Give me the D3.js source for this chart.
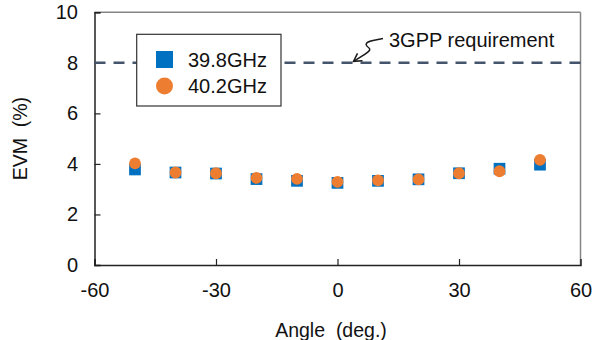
<!DOCTYPE html>
<html>
<head>
<meta charset="utf-8">
<script src="https://cdn.jsdelivr.net/npm/d3@7"></script>
<style>
  html, body { margin: 0; padding: 0; background: #fff; }
  svg { display: block; font-family: "Liberation Sans", Arial, sans-serif; }
</style>
</head>
<body>
<svg id="chart" width="597" height="340"></svg>
<script>
// Measured EVM versus steering angle at two carrier frequencies
const angles = [-50, -40, -30, -20, -10, 0, 10, 20, 30, 40, 50];
const evm398 = [3.78, 3.66, 3.62, 3.40, 3.33, 3.25, 3.33, 3.39, 3.63, 3.81, 3.97];
const evm402 = [4.02, 3.66, 3.63, 3.45, 3.41, 3.29, 3.35, 3.39, 3.63, 3.71, 4.16];
const seriesNames = ["39.8GHz", "40.2GHz"];
const xTicks = [-60, -30, 0, 30, 60];
const yTicks = [0, 2, 4, 6, 8, 10];
const requirement = 8;
const requirementLabel = "3GPP requirement";

const svg = d3.select("#chart");
const plotLeft = 94.5, plotRight = 580.5, plotTop = 12.3, plotBottom = 265;
const fontFamily = "'Liberation Sans', Arial, sans-serif";
const labelSize = 20;

const x = d3.scaleLinear().domain([-60, 60]).range([plotLeft, plotRight]);
const y = d3.scaleLinear().domain([0, 10]).range([plotBottom, plotTop]);

// frame: dark left/bottom axes, grey top/right borders
svg.append("line").attr("x1", plotLeft).attr("x2", plotRight).attr("y1", plotTop).attr("y2", plotTop)
  .attr("stroke", "#858585").attr("stroke-width", 1.5);
svg.append("line").attr("x1", plotRight).attr("x2", plotRight).attr("y1", plotTop).attr("y2", plotBottom)
  .attr("stroke", "#858585").attr("stroke-width", 1.5);

// plain hyphen-minus for negative tick values
const plain = d => String(d);

// y axis with inward ticks
const yAxis = d3.axisLeft(y).tickValues(yTicks).tickSize(-6).tickPadding(16.5).tickFormat(plain);
const gy = svg.append("g").attr("transform", `translate(${plotLeft},0)`).call(yAxis);
gy.select(".domain").attr("stroke", "#222").attr("stroke-width", 1.5);
gy.selectAll(".tick line").attr("stroke", "#222").attr("stroke-width", 1.2);
gy.selectAll(".tick text").attr("font-size", labelSize).attr("fill", "#111")
  .attr("font-family", fontFamily);

// x axis with inward ticks
const xAxis = d3.axisBottom(x).tickValues(xTicks).tickSize(-6).tickPadding(17.5).tickFormat(plain);
const gx = svg.append("g").attr("transform", `translate(0,${plotBottom})`).call(xAxis);
gx.select(".domain").attr("stroke", "#222").attr("stroke-width", 1.5);
gx.selectAll(".tick line").attr("stroke", "#222").attr("stroke-width", 1.2);
gx.selectAll(".tick text").attr("font-size", labelSize).attr("fill", "#111")
  .attr("font-family", fontFamily);
gx.selectAll(".tick").filter(d => d === 60).select("line").remove();

// axis titles
svg.append("text").attr("x", 331).attr("y", 336.5).attr("text-anchor", "middle")
  .attr("font-size", 19.5).attr("fill", "#111").text("Angle\u00A0 (deg.)");
svg.append("text").attr("transform", `translate(26.5,${(plotTop + plotBottom) / 2}) rotate(-90)`)
  .attr("text-anchor", "middle").attr("font-size", 19.5).attr("fill", "#111")
  .text("EVM\u00A0 (%)");

// requirement threshold
svg.append("line").attr("x1", plotLeft).attr("x2", plotRight)
  .attr("y1", y(requirement)).attr("y2", y(requirement))
  .attr("stroke", "#44546A").attr("stroke-width", 2.5).attr("stroke-dasharray", "11,8");

// annotation with curly leader arrow
svg.append("text").attr("x", 389).attr("y", 47).attr("font-size", labelSize).attr("fill", "#111")
  .text(requirementLabel);
const tipX = 353.5, tipY = y(requirement) - 1.5;
svg.append("path")
  .attr("d", `M383,38.5 L373,40.5 C363,42.5 366,46 369,48 C372,50.5 366,53.5 ${tipX},${tipY}`)
  .attr("fill", "none").attr("stroke", "#1a1a1a").attr("stroke-width", 1.5);
svg.append("path")
  .attr("d", `M${tipX + 9},${tipY - 0.5} L${tipX},${tipY} L${tipX + 4},${tipY - 8}`)
  .attr("fill", "none").attr("stroke", "#1a1a1a").attr("stroke-width", 1.5);

// data markers: squares then circles on top
const sq = 11.7;
svg.append("g").selectAll("rect").data(angles.map((a, i) => [a, evm398[i]])).join("rect")
  .attr("x", d => x(d[0]) - sq / 2).attr("y", d => y(d[1]) - sq / 2)
  .attr("width", sq).attr("height", sq).attr("fill", "#0070C0");
svg.append("g").selectAll("circle").data(angles.map((a, i) => [a, evm402[i]])).join("circle")
  .attr("cx", d => x(d[0])).attr("cy", d => y(d[1])).attr("r", 5.9).attr("fill", "#ED7D31");

// legend
const lg = svg.append("g");
lg.append("rect").attr("x", 136.7).attr("y", 34.3).attr("width", 144.3).attr("height", 71.7)
  .attr("fill", "#fff").attr("stroke", "#333").attr("stroke-width", 1.2);
lg.append("rect").attr("x", 156).attr("y", 51).attr("width", 17).attr("height", 17).attr("fill", "#0070C0");
lg.append("circle").attr("cx", 164.5).attr("cy", 86).attr("r", 8.5).attr("fill", "#ED7D31");
lg.append("text").attr("x", 188).attr("y", 66.5).attr("font-size", labelSize).attr("fill", "#111").text(seriesNames[0]);
lg.append("text").attr("x", 188).attr("y", 93).attr("font-size", labelSize).attr("fill", "#111").text(seriesNames[1]);
</script>
</body>
</html>
